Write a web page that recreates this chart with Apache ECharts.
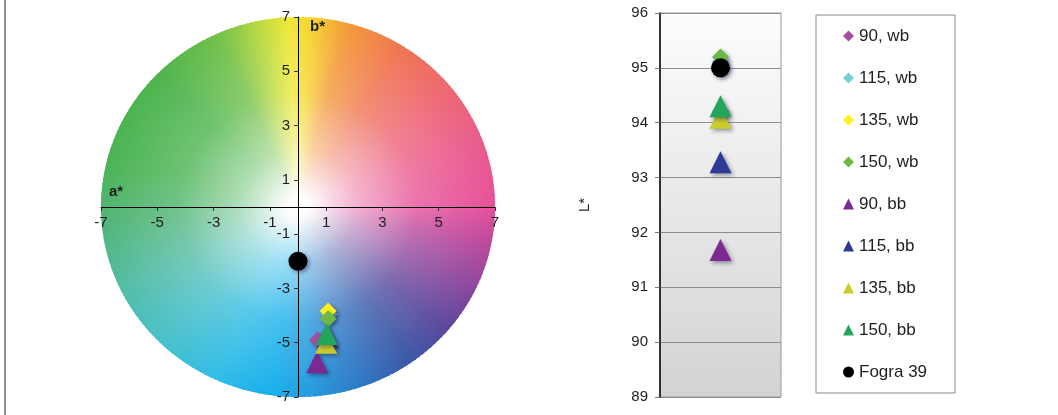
<!DOCTYPE html>
<html>
<head>
<meta charset="utf-8">
<script src="https://cdn.jsdelivr.net/npm/echarts@6/dist/echarts.min.js"></script>
<style>
  html, body { margin: 0; padding: 0; background: #ffffff; }
  #chart { width: 1058px; height: 415px; }
</style>
</head>
<body>
<div id="chart"></div>
<script>
// Sample names, shared by both panels and the legend
const seriesNames = ['90, wb', '115, wb', '135, wb', '150, wb', '90, bb', '115, bb', '135, bb', '150, bb', 'Fogra 39'];
// a* and b* chromaticity of each sample
const aStar = [0.7, 1.1, 1.07, 1.07, 0.68, 1.05, 1.0, 1.02, 0.0];
const bStar = [-4.9, -3.95, -3.83, -4.12, -5.72, -4.8, -5.0, -4.68, -2.0];
// L* lightness of each sample
const lStar = [94.2, 95.1, 95.0, 95.2, 91.68, 93.28, 94.09, 94.3, 95.0];
// Tick labels of the a*/b* axes
const abTicks = [-7, -5, -3, -1, 1, 3, 5, 7];
// Colour wheel: centre and radius in a*/b* units
const wheel = [[0, 0, 7]];

const seriesColors = ['#a24d9f', '#78cfcf', '#fff01e', '#6cb945', '#7c2a8f', '#2e3b96', '#c9cc2b', '#23a55c', '#000000'];
const seriesSymbols = ['diamond', 'diamond', 'diamond', 'diamond', 'triangle', 'triangle', 'triangle', 'triangle', 'circle'];
const symbolSizes = { diamond: 17, triangle: 22, circle: 19 };

const FONT = "'Liberation Sans', Arial, sans-serif";
const TEXT = '#1e1e1e';

// a*/b* panel placement (pixels)
const AB_GRID = { left: 101, top: 17, width: 394, height: 380 };

// Hue keys around the a*/b* plane (degrees counter-clockwise from +a*)
const hueKeys = [
  [0, '#e6509a'], [20, '#ea5a8c'], [40, '#ee6670'], [58, '#f07452'], [75, '#f4983a'],
  [86, '#f6d42e'], [93, '#eee838'], [102, '#b8d940'], [114, '#72c04a'], [135, '#4db44c'],
  [165, '#4ab353'], [185, '#50b577'], [205, '#52bca4'], [225, '#48c0c8'], [245, '#30bce6'],
  [262, '#18b0ec'], [275, '#2598dc'], [290, '#2f74c2'], [305, '#3a56a6'], [320, '#5a469c'],
  [335, '#8c469c'], [350, '#c0489c'], [360, '#e6509a']
];
function hex2rgb(h) { return [1, 3, 5].map(i => parseInt(h.slice(i, i + 2), 16)); }
function hueAt(deg) {
  for (let i = 0; i < hueKeys.length - 1; i++) {
    const [d0, c0] = hueKeys[i], [d1, c1] = hueKeys[i + 1];
    if (deg >= d0 && deg <= d1) {
      const t = (deg - d0) / (d1 - d0), a = hex2rgb(c0), b = hex2rgb(c1);
      return a.map((v, k) => v + (b[k] - v) * t);
    }
  }
  return hex2rgb(hueKeys[0][1]);
}
function towardWhite(rgb, amount) {
  const c = rgb.map(v => Math.round(v + (255 - v) * amount));
  return 'rgb(' + c.join(',') + ')';
}

// Draws the a*/b* colour wheel as thin wedges, white at the centre
function renderWheel(params, api) {
  const ca = api.value(0), cb = api.value(1), R = api.value(2);
  const c = api.coord([ca, cb]);
  const N = 240, step = 360 / N;
  const children = [];
  for (let i = 0; i < N; i++) {
    const t0 = i * step, t1 = (i + 1.6) * step;
    const pts = [c];
    for (let k = 0; k <= 3; k++) {
      const ang = (t0 + (t1 - t0) * k / 3) * Math.PI / 180;
      pts.push(api.coord([ca + R * Math.cos(ang), cb + R * Math.sin(ang)]));
    }
    const tm = (i + 0.5) * step;
    const am = tm * Math.PI / 180;
    const outer = api.coord([ca + R * Math.cos(am), cb + R * Math.sin(am)]);
    const col = hueAt(tm);
    const fill = new echarts.graphic.LinearGradient(c[0], c[1], outer[0], outer[1], [
      { offset: 0, color: '#ffffff' },
      { offset: 0.05, color: '#fdfdfd' },
      { offset: 0.3, color: towardWhite(col, 0.55) },
      { offset: 0.6, color: towardWhite(col, 0.2) },
      { offset: 1, color: towardWhite(col, 0) }
    ], true);
    children.push({ type: 'polygon', shape: { points: pts }, style: { fill: fill, lineWidth: 0 } });
  }
  return { type: 'group', children: children, silent: true };
}

const markerShadow = {
  shadowBlur: 4, shadowColor: 'rgba(20,20,60,0.45)', shadowOffsetX: 2, shadowOffsetY: 2
};

const series = [{
  type: 'custom',
  name: 'wheel',
  xAxisIndex: 0, yAxisIndex: 0,
  data: wheel,
  renderItem: renderWheel,
  silent: true,
  z: 0
}];

seriesNames.forEach((name, i) => {
  const sym = seriesSymbols[i];
  series.push({
    type: 'scatter', name: name,
    xAxisIndex: 0, yAxisIndex: 0,
    data: [[aStar[i], bStar[i]]],
    symbol: sym, symbolSize: symbolSizes[sym],
    itemStyle: Object.assign({ color: seriesColors[i], opacity: 1 }, markerShadow),
    z: 10 + i
  });
});
seriesNames.forEach((name, i) => {
  const sym = seriesSymbols[i];
  series.push({
    type: 'scatter', name: name,
    xAxisIndex: 1, yAxisIndex: 1,
    data: [[1, lStar[i]]],
    symbol: sym, symbolSize: symbolSizes[sym],
    itemStyle: Object.assign({ color: seriesColors[i], opacity: 1 }, markerShadow),
    z: 10 + i
  });
});

const chart = echarts.init(document.getElementById('chart'), null, { renderer: 'canvas' });
chart.setOption({
  animation: false,
  backgroundColor: '#ffffff',
  textStyle: { fontFamily: FONT, color: TEXT },
  grid: [
    AB_GRID,
    {
      left: 660, top: 13, width: 121, height: 384, show: true,
      borderColor: '#9a9a9a', borderWidth: 1,
      backgroundColor: {
        type: 'linear', x: 0, y: 0, x2: 0, y2: 1,
        colorStops: [{ offset: 0, color: '#fdfdfd' }, { offset: 1, color: '#d3d3d3' }]
      }
    }
  ],
  xAxis: [
    {
      gridIndex: 0, type: 'value', min: -7, max: 7, z: 5,
      position: 'bottom', offset: -AB_GRID.height / 2,
      axisLine: { onZero: false, lineStyle: { color: '#000', width: 1 } },
      axisTick: { show: true, customValues: abTicks, length: 4, lineStyle: { color: '#333' } },
      axisLabel: { customValues: abTicks, fontSize: 15, color: TEXT, fontFamily: FONT, margin: 8 },
      splitLine: { show: false },
      name: 'a*', nameLocation: 'start', nameGap: -8,
      nameTextStyle: { fontSize: 15, fontWeight: 'bold', color: TEXT, align: 'left', verticalAlign: 'bottom', padding: [0, 0, 8, 0] }
    },
    { gridIndex: 1, type: 'value', min: 0, max: 2, show: false }
  ],
  yAxis: [
    {
      gridIndex: 0, type: 'value', min: -7, max: 7, z: 5,
      position: 'left', offset: -AB_GRID.width / 2,
      axisLine: { onZero: false, lineStyle: { color: '#000', width: 1 } },
      axisTick: { show: true, customValues: abTicks, length: 4, lineStyle: { color: '#333' } },
      axisLabel: { customValues: abTicks, fontSize: 15, color: TEXT, fontFamily: FONT, margin: 8 },
      splitLine: { show: false },
      name: 'b*', nameLocation: 'end', nameGap: -2,
      nameTextStyle: { fontSize: 15, fontWeight: 'bold', color: TEXT, align: 'left', verticalAlign: 'top', padding: [0, 0, 0, 12] }
    },
    {
      gridIndex: 1, type: 'value', min: 89, max: 96, interval: 1,
      axisLine: { show: true, lineStyle: { color: '#000', width: 1.5 } },
      axisTick: { show: true, length: 5, lineStyle: { color: '#777' } },
      axisLabel: { fontSize: 15, color: TEXT, fontFamily: FONT, margin: 12 },
      splitLine: { show: true, lineStyle: { color: '#8c8c8c', width: 1 } },
      name: 'L*', nameLocation: 'middle', nameGap: 68, nameRotate: 90,
      nameTextStyle: { fontSize: 15, color: TEXT }
    }
  ],
  legend: {
    data: seriesNames,
    orient: 'vertical',
    left: 816, top: 15,
    padding: [12, 28, 12, 27],
    itemGap: 24,
    itemWidth: 11, itemHeight: 11,
    backgroundColor: '#ffffff',
    borderColor: '#8a8a8a', borderWidth: 1, borderRadius: 0,
    textStyle: { fontSize: 17, color: TEXT, fontFamily: FONT, lineHeight: 18, width: 68 },
    itemStyle: { shadowBlur: 0, shadowOffsetX: 0, shadowOffsetY: 0, shadowColor: 'rgba(0,0,0,0)' }
  },
  graphic: [
    { type: 'line', shape: { x1: 5, y1: 0, x2: 5, y2: 415 }, style: { stroke: '#8f8f8f', lineWidth: 2 }, silent: true }
  ],
  series: series
});
</script>
</body>
</html>
